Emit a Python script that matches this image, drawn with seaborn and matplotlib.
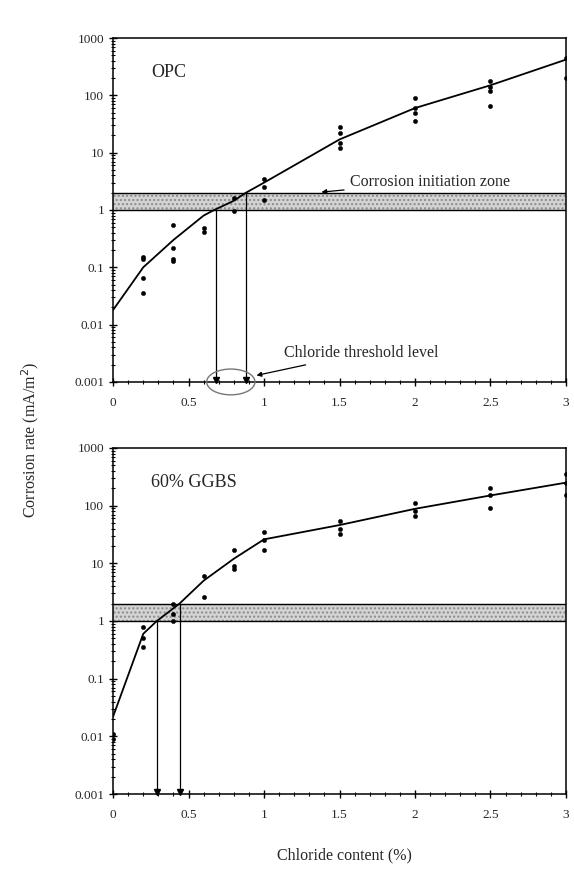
import numpy as np
import pandas as pd
import seaborn as sns
import matplotlib.pyplot as plt
from matplotlib.patches import Ellipse
from matplotlib.ticker import FixedLocator, MultipleLocator, LogLocator, NullFormatter
import matplotlib.transforms as mtransforms

sns.set_style('ticks')
plt.rcParams['font.family'] = ['Liberation Serif', 'DejaVu Serif']

# ---- OPC ----
opc_curve_x = [0, 0.2, 0.4, 0.6, 0.67, 0.8, 0.88, 1.0, 1.5, 2.0, 2.5, 3.0]
opc_curve_y = [0.018, 0.1, 0.3, 0.8, 1.0, 1.45, 2.0, 3.0, 17, 60, 150, 420]
opc_pts_x = [0.2, 0.2, 0.2, 0.2, 0.4, 0.4, 0.4, 0.4, 0.6, 0.6, 0.8, 0.8,
             1.0, 1.0, 1.0, 1.5, 1.5, 1.5, 1.5, 2.0, 2.0, 2.0, 2.0,
             2.5, 2.5, 2.5, 2.5, 3.0, 3.0]
opc_pts_y = [0.15, 0.14, 0.065, 0.035, 0.55, 0.22, 0.14, 0.13, 0.48, 0.42, 0.95, 1.6,
             3.5, 2.5, 1.5, 28, 22, 15, 12, 90, 60, 50, 35,
             180, 140, 120, 65, 450, 200]
opc_threshold = [0.68, 0.88]

# ---- 60% GGBS ----
ggbs_curve_x = [0, 0.2, 0.29, 0.44, 0.6, 0.8, 1.0, 1.5, 2.0, 2.5, 3.0]
ggbs_curve_y = [0.022, 0.6, 1.0, 2.0, 5.0, 12, 26, 46, 88, 150, 250]
ggbs_pts_x = [0, 0, 0.2, 0.2, 0.2, 0.4, 0.4, 0.4, 0.6, 0.6, 0.8, 0.8, 0.8,
              1.0, 1.0, 1.0, 1.5, 1.5, 1.5, 2.0, 2.0, 2.0, 2.5, 2.5, 2.5,
              3.0, 3.0, 3.0]
ggbs_pts_y = [0.011, 0.009, 0.8, 0.5, 0.35, 2.0, 1.3, 1.0, 6.0, 2.6, 17, 9, 8,
              35, 25, 17, 55, 40, 32, 110, 80, 65, 200, 150, 90,
              350, 250, 150]
ggbs_threshold = [0.29, 0.44]

zone_lo, zone_hi = 1, 2
yticks = [0.001, 0.01, 0.1, 1, 10, 100, 1000]
ytick_labels = ['0.001', '0.01', '0.1', '1', '10', '100', '1000']
xticks = [0, 0.5, 1, 1.5, 2, 2.5, 3]
xtick_labels = ['0', '0.5', '1', '1.5', '2', '2.5', '3']

fig = plt.figure(figsize=(5.74, 8.74), dpi=100)
ax1 = fig.add_axes([0.197, 0.563, 0.789, 0.3935])
ax2 = fig.add_axes([0.197, 0.0915, 0.789, 0.396])


def panel(ax, cx, cy, px, py, thr, title):
    ax.set_yscale('log')
    ax.set_ylim(0.001, 1000)
    ax.set_xlim(0, 3)
    # corrosion initiation zone
    ax.axhspan(zone_lo, zone_hi, facecolor='#d4d4d4', edgecolor='#8a8a8a',
               hatch='....', lw=0, zorder=1)
    ax.axhline(zone_lo, color='black', lw=1.0, zorder=2)
    ax.axhline(zone_hi, color='black', lw=1.0, zorder=2)
    sns.lineplot(x=cx, y=cy, ax=ax, color='black', lw=1.3, zorder=4)
    sns.scatterplot(x=px, y=py, ax=ax, color='black', s=10, marker='o',
                    edgecolor='black', zorder=5)
    # threshold drop lines
    for t, lvl in zip(thr, [zone_lo, zone_hi]):
        ax.vlines(t, 0.001, lvl, color='black', lw=0.9, zorder=3)
        ax.plot([t], [0.0011], marker='v', color='black', ms=4, clip_on=False, zorder=6)
    ax.text(0.25, 250, title, fontsize=13, ha='left', va='center')
    ax.yaxis.set_major_locator(FixedLocator(yticks))
    ax.set_yticklabels(ytick_labels)
    ax.yaxis.set_minor_locator(LogLocator(base=10, subs=np.arange(2, 10)))
    ax.yaxis.set_minor_formatter(NullFormatter())
    ax.set_xticks(xticks)
    ax.set_xticklabels(xtick_labels)
    ax.xaxis.set_minor_locator(MultipleLocator(0.1))
    ax.tick_params(axis='both', which='major', direction='inout', length=6,
                   width=1.0, labelsize=9.5, color='black')
    ax.tick_params(axis='both', which='minor', direction='inout', length=3,
                   width=0.8, color='black')
    ax.tick_params(axis='x', pad=8)
    for s in ax.spines.values():
        s.set_color('black')
        s.set_linewidth(1.1)
    ax.set_xlabel('')
    ax.set_ylabel('')


panel(ax1, opc_curve_x, opc_curve_y, opc_pts_x, opc_pts_y, opc_threshold, 'OPC')
panel(ax2, ggbs_curve_x, ggbs_curve_y, ggbs_pts_x, ggbs_pts_y, ggbs_threshold, '60% GGBS')

# annotations on the OPC panel
ax1.annotate('Corrosion initiation zone', xy=(1.38, 2.05), xytext=(1.57, 3.1),
             fontsize=11.5, ha='left', va='center',
             arrowprops=dict(arrowstyle='-|>', color='black', lw=0.9,
                             mutation_scale=7, shrinkA=2, shrinkB=0))
trans = mtransforms.blended_transform_factory(ax1.transData, ax1.transAxes)
ell = Ellipse((0.78, 0.0), width=0.32, height=0.075, transform=trans,
              fill=False, edgecolor='#777777', lw=1.0, clip_on=False, zorder=6)
ax1.add_patch(ell)
ax1.annotate('Chloride threshold level', xy=(0.95, 0.0013), xytext=(1.13, 0.0032),
             fontsize=11.5, ha='left', va='center',
             arrowprops=dict(arrowstyle='-|>', color='black', lw=0.9,
                             mutation_scale=7, shrinkA=2, shrinkB=0))

fig.text(0.052, 0.497, 'Corrosion rate (mA/m$^2$)', rotation=90, fontsize=11.5,
         ha='center', va='center')
fig.text(0.60, 0.021, 'Chloride content (%)', fontsize=11.5, ha='center', va='center')

fig.savefig('out.png', dpi=100)
